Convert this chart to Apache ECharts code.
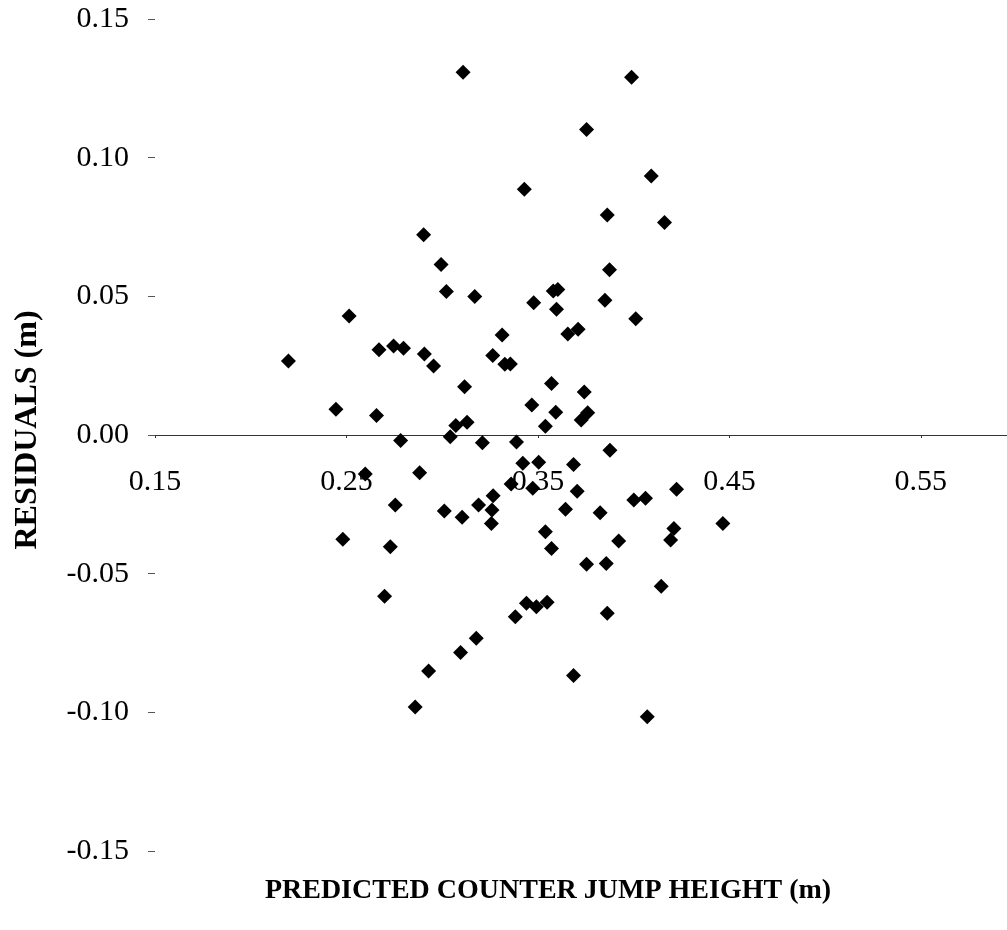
<!DOCTYPE html>
<html>
<head>
<meta charset="utf-8">
<script src="https://cdn.jsdelivr.net/npm/echarts@6/dist/echarts.min.js"></script>
<style>
  html, body { margin: 0; padding: 0; background: #fff; }
  #chart { width: 1007px; height: 930px; }
</style>
</head>
<body>
<div id="chart"></div>
<script>
// Predicted counter jump height (m) for each jump
const predictedHeight = [
  0.2197, 0.2445, 0.2514, 0.2481, 0.2598, 0.2657, 0.2670, 0.2746, 0.2798, 0.2755,
  0.2729, 0.2699, 0.2783, 0.2882, 0.2903, 0.2907, 0.2955, 0.2929, 0.2859, 0.2994,
  0.3022, 0.3011, 0.3042, 0.3071, 0.3130, 0.3109, 0.3117, 0.3104, 0.3096, 0.3170,
  0.3178, 0.3190, 0.3210, 0.3266, 0.3260, 0.3257, 0.3264, 0.3313, 0.3327, 0.3356,
  0.3388, 0.3382, 0.3429, 0.3421, 0.3504, 0.3360, 0.3473, 0.3440, 0.3492, 0.3548,
  0.3478, 0.3468, 0.3539, 0.3539, 0.3571, 0.3571, 0.3580, 0.3604, 0.3597, 0.3593,
  0.3644, 0.3656, 0.3710, 0.3686, 0.3705, 0.3686, 0.3726, 0.3760, 0.3742, 0.3754,
  0.3754, 0.3825, 0.3850, 0.3874, 0.3876, 0.3857, 0.3862, 0.3862, 0.3922, 0.3989,
  0.4001, 0.4062, 0.4011, 0.4071, 0.4092, 0.4144, 0.4161, 0.4193, 0.4210, 0.4224,
  0.4466
];

// Residual (m) for each jump, same order
const residual = [
   0.0267,  0.0093,  0.0429, -0.0376, -0.0141,  0.0070,  0.0307,  0.0321,  0.0313, -0.0252,
  -0.0403, -0.0581, -0.0020, -0.0136,  0.0722,  0.0292,  0.0249, -0.0851, -0.0981,  0.0615,
   0.0517, -0.0274, -0.0006,  0.0034,  0.0046,  0.1308,  0.0174, -0.0297, -0.0784,  0.0499,
  -0.0733, -0.0252, -0.0028, -0.0219, -0.0270, -0.0319,  0.0287,  0.0361,  0.0255,  0.0256,
  -0.0025, -0.0655,  0.0886, -0.0102, -0.0098, -0.0177, -0.0192, -0.0607, -0.0619, -0.0603,
   0.0477,  0.0108,  0.0032, -0.0349,  0.0186, -0.0409,  0.0519,  0.0525,  0.0453,  0.0082,
  -0.0268,  0.0364,  0.0381, -0.0106, -0.0203, -0.0867,  0.0054,  0.0080,  0.0155, -0.0466,
   0.1102, -0.0280,  0.0486,  0.0596, -0.0055, -0.0463,  0.0793, -0.0643, -0.0382,  0.1290,
  -0.0234, -0.0228,  0.0419, -0.1016,  0.0934, -0.0545,  0.0766, -0.0379, -0.0337, -0.0196,
  -0.0319
];

const xTicks = { min: 0.15, max: 0.595, step: 0.1 };
const yTicks = { min: -0.15, max: 0.15, step: 0.05 };

const xTitle = 'PREDICTED COUNTER JUMP HEIGHT (m)';
const yTitle = 'RESIDUALS (m)';

const points = predictedHeight.map((x, i) => [x, residual[i]]);

const serif = '"Liberation Serif", "Times New Roman", serif';

// plot area geometry
const plotLeft = 155;
const plotTop = 19;
const plotHeight = 832;
// the x axis (line, ticks and labels) sits on the residual = 0 line
const zeroOffset = -plotHeight * (0 - yTicks.min) / (yTicks.max - yTicks.min);

const chart = echarts.init(document.getElementById('chart'), null, { renderer: 'canvas' });
chart.setOption({
  animation: false,
  backgroundColor: '#ffffff',
  grid: { left: plotLeft, top: plotTop, right: 0, height: plotHeight, containLabel: false },
  xAxis: {
    type: 'value',
    min: xTicks.min,
    max: xTicks.max,
    interval: xTicks.step,
    offset: zeroOffset,
    axisLine: { onZero: false, lineStyle: { color: '#333', width: 1 } },
    axisTick: { show: true, length: 3, lineStyle: { color: '#333' } },
    splitLine: { show: false },
    axisLabel: {
      margin: 32,
      color: '#000',
      fontFamily: serif,
      fontSize: 30,
      showMaxLabel: false,
      formatter: v => v.toFixed(2)
    }
  },
  yAxis: {
    type: 'value',
    min: yTicks.min,
    max: yTicks.max,
    interval: yTicks.step,
    axisLine: { show: false },
    axisTick: { show: true, length: 7, lineStyle: { color: '#555' } },
    splitLine: { show: false },
    axisLabel: {
      margin: 26,
      color: '#000',
      fontFamily: serif,
      fontSize: 30,
      formatter: v => v.toFixed(2)
    }
  },
  graphic: [
    {
      type: 'text',
      x: 548, y: 891,
      style: {
        text: xTitle,
        font: 'bold 28px ' + serif,
        fill: '#000',
        align: 'center',
        verticalAlign: 'middle'
      }
    },
    {
      type: 'text',
      x: 28, y: 430,
      rotation: Math.PI / 2,
      style: {
        text: yTitle,
        font: 'bold 32px ' + serif,
        fill: '#000',
        align: 'center',
        verticalAlign: 'middle'
      }
    }
  ],
  series: [{
    type: 'scatter',
    data: points,
    symbol: 'diamond',
    symbolSize: 15,
    itemStyle: { color: '#000', opacity: 1 }
  }]
});
</script>
</body>
</html>
